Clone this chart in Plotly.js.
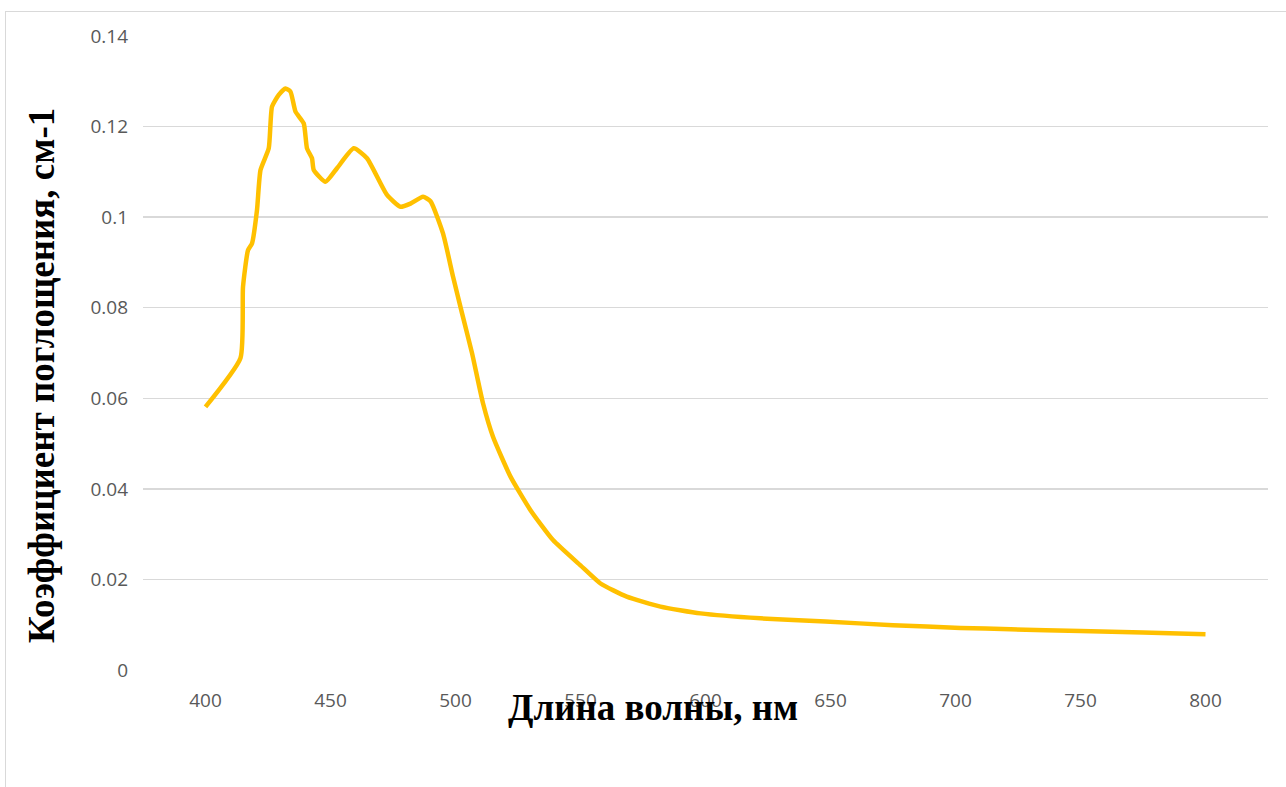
<!DOCTYPE html>
<html>
<head>
<meta charset="utf-8">
<script src="https://cdn.plot.ly/plotly-3.0.1.min.js"></script>
<style>
  html, body { margin: 0; padding: 0; background: #ffffff; }
  #wrap { position: relative; width: 1286px; height: 787px; }
  #chart { position: absolute; left: 0; top: 0; width: 1286px; height: 787px; }
  #frame { position: absolute; left: 5px; top: 11px; right: -2px; bottom: -2px;
           border-left: 1.5px solid #d9d9d9; border-top: 1.5px solid #d9d9d9; pointer-events: none; }
</style>
</head>
<body>
<div id="wrap">
  <div id="chart"></div>
  <div id="frame"></div>
</div>
<script>
// Wavelength, nm
const wavelength = [400, 414, 415, 417, 418.6, 420.6, 422, 425.3, 426.6, 429.3, 432, 434, 436, 439.3, 440.6,
  442.6, 443.3, 448, 452.6, 459.3, 464.6, 472.6, 478, 482, 487, 490, 495, 499, 502.6, 506.6, 511, 515,
  522, 530, 539, 550, 558, 568.5, 582, 598, 622, 648, 675, 702, 722, 750, 775, 800];
// Absorption coefficient, cm-1
const absorption = [0.0581, 0.0689, 0.0846, 0.0927, 0.0942, 0.1016, 0.1104, 0.1152, 0.1244, 0.1270, 0.1284,
  0.1277, 0.1233, 0.1207, 0.1152, 0.1130, 0.1104, 0.1078, 0.1108, 0.1152, 0.1130, 0.1049, 0.1023, 0.1030,
  0.1045, 0.1035, 0.0964, 0.0869, 0.0788, 0.0700, 0.0589, 0.0515, 0.0427, 0.0353, 0.0287, 0.0231,
  0.0191, 0.0162, 0.0140, 0.0125, 0.0114, 0.0107, 0.0099, 0.0093, 0.0090, 0.0086, 0.0083, 0.0079];
const xTicks = [400, 450, 500, 550, 600, 650, 700, 750, 800];
const yTicks = [0, 0.02, 0.04, 0.06, 0.08, 0.1, 0.12, 0.14];
const yTickText = ["0", "0.02", "0.04", "0.06", "0.08", "0.1", "0.12", "0.14"];
const xTitle = "Длина волны, нм";
const yTitle = "Коэффициент поглощения, см-1";

const trace = {
  x: wavelength, y: absorption, type: "scatter", mode: "lines",
  line: { color: "#ffc000", width: 4.5, shape: "spline", smoothing: 0.5 },
  hoverinfo: "x+y"
};

const layout = {
  width: 1286, height: 787,
  margin: { l: 143, r: 18, t: 36, b: 117 },
  paper_bgcolor: "rgba(0,0,0,0)", plot_bgcolor: "rgba(0,0,0,0)",
  showlegend: false,
  font: { family: "Open Sans, sans-serif", color: "#595959", size: 19 },
  xaxis: {
    range: [375, 825], tickvals: xTicks, ticktext: xTicks.map(String),
    showgrid: false, zeroline: false, showline: false, ticks: "",
    tickfont: { size: 19, color: "#595959" }, ticklabelstandoff: 17
  },
  yaxis: {
    range: [0, 0.14], tickvals: yTicks, ticktext: yTickText,
    showgrid: true, gridcolor: "#d9d9d9", gridwidth: 1.5, zeroline: false, showline: false, ticks: "",
    tickfont: { size: 19, color: "#595959" }, ticklabelstandoff: 14
  },
  annotations: [
    { text: "<b>" + xTitle + "</b>", xref: "paper", yref: "paper",
      x: (653 - 143) / 1125, y: -(707 - 670) / 634, xanchor: "center", yanchor: "middle",
      showarrow: false, font: { family: "Liberation Serif, Times New Roman, serif", size: 37, color: "#000000" } },
    { text: "<b>" + yTitle + "</b>", xref: "paper", yref: "paper",
      x: -(143 - 41) / 1125, y: (670 - 376) / 634, xanchor: "center", yanchor: "middle", textangle: -90,
      showarrow: false, font: { family: "Liberation Serif, Times New Roman, serif", size: 37, color: "#000000" } }
  ]
};

Plotly.newPlot("chart", [trace], layout, { displayModeBar: false, staticPlot: true });
</script>
</body>
</html>
